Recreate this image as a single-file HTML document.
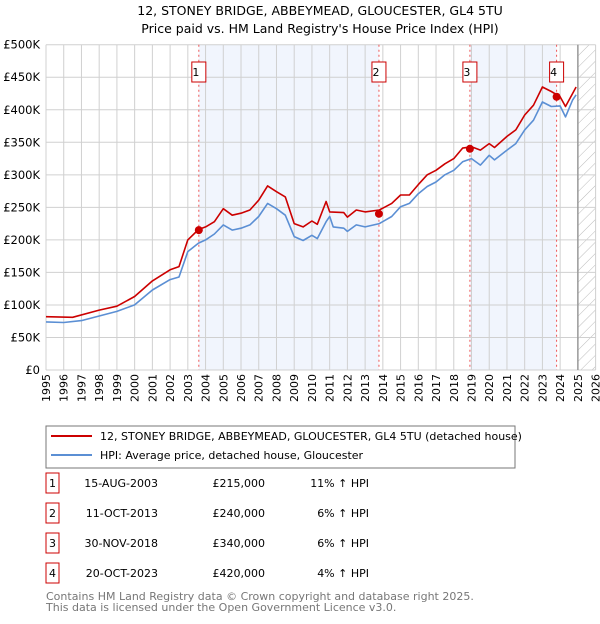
<!DOCTYPE html>
<html><head><meta charset="utf-8"><style>
body{margin:0;background:#fff;font-family:"DejaVu Sans","Liberation Sans",sans-serif;}
#wrap{position:relative;width:600px;height:620px;}
</style></head><body><div id="wrap">
<svg id="svg" width="600" height="620" xmlns="http://www.w3.org/2000/svg" font-family="DejaVu Sans, Liberation Sans, sans-serif">
<text x="320" y="15" font-size="12.5" text-anchor="middle">12, STONEY BRIDGE, ABBEYMEAD, GLOUCESTER, GL4 5TU</text>
<text x="320" y="33" font-size="12.5" text-anchor="middle">Price paid vs. HM Land Registry's House Price Index (HPI)</text>
<defs><pattern id="hatch" width="8" height="8" patternUnits="userSpaceOnUse" patternTransform="rotate(45)"><line x1="0" y1="0" x2="0" y2="8" stroke="#bbb" stroke-width="1"/></pattern></defs>
<g id="plot"></g>
<rect x="46" y="426" width="469" height="42" fill="#fff" stroke="#777"/>
<line x1="51" y1="436" x2="92" y2="436" stroke="#cc0000" stroke-width="2"/>
<text x="100" y="440" font-size="11">12, STONEY BRIDGE, ABBEYMEAD, GLOUCESTER, GL4 5TU (detached house)</text>
<line x1="51" y1="455" x2="92" y2="455" stroke="#5b8fd4" stroke-width="2"/>
<text x="100" y="459" font-size="11">HPI: Average price, detached house, Gloucester</text>
<g id="table" font-size="11"></g>
<text x="46" y="600" font-size="11" fill="#777">Contains HM Land Registry data © Crown copyright and database right 2025.</text>
<text x="46" y="611" font-size="11" fill="#777">This data is licensed under the Open Government Licence v3.0.</text>
</svg></div>
<script>
const hpiYears=[1995,1996,1997,1998,1999,2000,2001,2002,2002.5,2003,2003.6,2004,2004.5,2005,2005.5,2006,2006.5,2007,2007.5,2008,2008.5,2009,2009.5,2010,2010.3,2010.8,2011,2011.2,2011.8,2012,2012.5,2013,2013.8,2014.5,2015,2015.5,2016,2016.5,2017,2017.5,2018,2018.5,2019,2019.5,2020,2020.3,2021,2021.5,2022,2022.5,2023,2023.5,2024,2024.3,2024.7,2024.9];
const hpiValues=[74,73,76,83,90,100,123,139,143,182,195,200,209,223,215,218,223,236,256,248,238,205,199,207,202,228,236,220,218,213,223,220,225,236,251,256,271,282,289,300,307,320,325,315,330,323,338,348,369,384,412,405,406,389,415,423];
const propYears=[1995,1996.5,1998,1999,2000,2001,2002,2002.5,2003,2003.6,2004,2004.5,2005,2005.5,2006,2006.5,2007,2007.5,2008,2008.5,2009,2009.5,2010,2010.3,2010.8,2011,2011.8,2012,2012.5,2013,2013.8,2014.5,2015,2015.5,2016,2016.5,2017,2017.5,2018,2018.5,2019,2019.5,2020,2020.3,2021,2021.5,2022,2022.5,2023,2023.5,2024,2024.3,2024.7,2024.9];
const propValues=[82,81,92,98,113,137,154,159,200,216,220,228,248,238,241,246,261,283,274,266,225,220,229,224,259,243,242,235,246,243,246,256,269,269,285,300,307,317,325,341,343,338,348,342,359,369,392,407,435,428,420,405,425,435];
const saleLabels=["1","2","3","4"];
const saleYears=[2003.62,2013.78,2018.91,2023.8];
const salePrices=[215,240,340,420];
const saleDates=["15-AUG-2003","11-OCT-2013","30-NOV-2018","20-OCT-2023"];
const salePriceText=["£215,000","£240,000","£340,000","£420,000"];
const saleHpiText=["11% ↑ HPI","6% ↑ HPI","6% ↑ HPI","4% ↑ HPI"];
const yTicks=[0,50,100,150,200,250,300,350,400,450,500];
const yTickLabels=["£0","£50K","£100K","£150K","£200K","£250K","£300K","£350K","£400K","£450K","£500K"];

const NS="http://www.w3.org/2000/svg";
const X0=46,X1=595.6,Y0=370,Y1=44.7;
const xs=y=>X0+(y-1995)*(X1-X0)/31;
const ys=v=>Y0-(v)*(Y0-Y1)/500;
const g=document.getElementById('plot');
function mk(tag,at,parent){const e=document.createElementNS(NS,tag);for(const k in at)e.setAttribute(k,at[k]);(parent||g).appendChild(e);return e;}
// shading
for(let i=0;i<saleYears.length;i+=2){
  const r=mk('rect',{x:xs(saleYears[i]),y:Y1,width:xs(saleYears[i+1])-xs(saleYears[i]),height:Y0-Y1,fill:'#eef3fc',opacity:0.8});
  
  
}
// hatch future
const h=mk('rect',{x:xs(2025),y:Y1,width:X1-xs(2025),height:Y0-Y1,fill:'url(#hatch)'});


// grid
for(let yr=1995;yr<=2026;yr++){
  const l=mk('line',{x1:xs(yr),x2:xs(yr),y1:Y1,y2:Y0,stroke:'#d0d0d0','stroke-width':1});
  
  
  const t=mk('text',{x:0,y:0,'font-size':11,'text-anchor':'end',transform:`translate(${xs(yr)+4},374) rotate(-90)`});
  t.textContent=yr;
  
  
}
yTicks.forEach((v,i)=>{
  const l=mk('line',{x1:X0,x2:X1,y1:ys(v),y2:ys(v),stroke:'#d0d0d0','stroke-width':1});
  
  
  const t=mk('text',{x:40,y:ys(v)+4,'font-size':11.5,'text-anchor':'end'});
  t.textContent=yTickLabels[i];
  
  
});
const bl=mk('line',{x1:xs(2025),x2:xs(2025),y1:Y1,y2:Y0,stroke:'#999','stroke-width':1.5});


// sale vlines
saleYears.forEach((yr,i)=>{
  const l=mk('line',{x1:xs(yr),x2:xs(yr),y1:Y1,y2:Y0,stroke:'#e55','stroke-width':1,'stroke-dasharray':'2,3'});
  
  
  const b=mk('rect',{x:xs(yr)-7,y:62,width:14,height:20,fill:'#fff',stroke:'#cc0000'});
  
  
  const t=mk('text',{x:xs(yr)-3,y:76,'font-size':11,'text-anchor':'middle'});
  t.textContent=saleLabels[i];
  
  
});
function path(xa,va,color,name){
  const d=xa.map((x,i)=>(i?'L':'M')+xs(x).toFixed(1)+','+ys(va[i]).toFixed(1)).join('');
  const p=mk('path',{d:d,fill:'none',stroke:color,'stroke-width':1.6,'stroke-linejoin':'round'});
  
  
}
path(hpiYears,hpiValues,'#5b8fd4','hpi-line');
path(propYears,propValues,'#cc0000','property-price-line');
saleYears.forEach((yr,i)=>{
  const c=mk('circle',{cx:xs(yr),cy:ys(salePrices[i]),r:4,fill:'#cc0000'});
  
  
});
// table
const tb=document.getElementById('table');
const rowY=[483,513,543,573];
saleLabels.forEach((lab,i)=>{
  const y=rowY[i];
  const b=mk('rect',{x:46,y:y-10,width:13,height:20,fill:'#fff',stroke:'#cc0000'},tb);
  
  
  const t0=mk('text',{x:52.5,y:y+4,'text-anchor':'middle'},tb);t0.textContent=lab;
  
  
  const t1=mk('text',{x:158,y:y+4,'text-anchor':'end'},tb);t1.textContent=saleDates[i];
  
  
  const t2=mk('text',{x:265,y:y+4,'text-anchor':'end'},tb);t2.textContent=salePriceText[i];
  
  
  const t3=mk('text',{x:369,y:y+4,'text-anchor':'end'},tb);t3.textContent=saleHpiText[i];
  
  
});
</script></body></html>
